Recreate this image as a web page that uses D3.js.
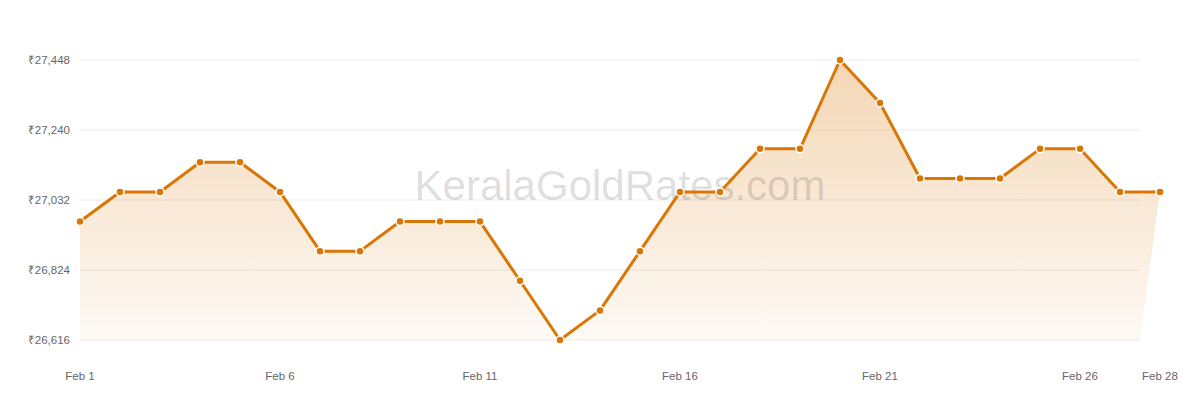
<!DOCTYPE html>
<html>
<head>
<meta charset="utf-8">
<script src="https://cdn.jsdelivr.net/npm/d3@7"></script>
<style>
  html, body { margin: 0; padding: 0; background: #fff; }
  svg text { font-family: "Liberation Sans", Arial, sans-serif; }
  .grid line { stroke: #f3f3f3; stroke-width: 1.5px; }
  .tick-label { fill: #666; font-size: 11.5px; }
</style>
</head>
<body>
<div id="chart"></div>
<script>
// Kerala gold rate, February (value per 8 g)
const days = d3.range(1, 29)
const rates = [
  26968, 27056, 27056, 27144, 27144, 27056, 26880, 26880, 26968, 26968,
  26968, 26792, 26616, 26704, 26880, 27056, 27056, 27184, 27184, 27448,
  27320, 27096, 27096, 27096, 27184, 27184, 27056, 27056
]
const yTicks = [26616, 26824, 27032, 27240, 27448]
const xTickDays = [1, 6, 11, 16, 21, 26, 28]

const width = 1200
const height = 400
const plotRight = 1140 // grid stops short of the last point
const color = '#d97706'

const svg = d3.select('#chart')
  .append('svg')
  .attr('width', width)
  .attr('height', height)

const x = d3.scaleLinear().domain([1, 28]).range([80, 1160])
const y = d3.scaleLinear().domain([26616, 27448]).range([340, 60])

const data = days.map((d, i) => ({ day: d, value: rates[i] }))

// gradient for the area
const grad = svg.append('defs')
  .append('linearGradient')
    .attr('id', 'areaFill')
    .attr('gradientUnits', 'userSpaceOnUse')
    .attr('x1', 0).attr('x2', 0)
    .attr('y1', y(27448)).attr('y2', y(26616))
grad.append('stop').attr('offset', 0).attr('stop-color', color).attr('stop-opacity', 0.3)
grad.append('stop').attr('offset', 1).attr('stop-color', color).attr('stop-opacity', 0.04)

// grid
svg.append('g').attr('class', 'grid')
  .selectAll('line')
  .data(yTicks)
  .join('line')
    .attr('x1', x(1)).attr('x2', plotRight)
    .attr('y1', d => y(d)).attr('y2', d => y(d))

// y labels
svg.append('g')
  .selectAll('text')
  .data(yTicks)
  .join('text')
    .attr('class', 'tick-label')
    .attr('x', 70)
    .attr('y', d => y(d))
    .attr('dy', '0.35em')
    .attr('text-anchor', 'end')
    .text(d => '₹' + d3.format(',')(d))

// x labels
svg.append('g')
  .selectAll('text')
  .data(xTickDays)
  .join('text')
    .attr('class', 'tick-label')
    .attr('x', d => x(d))
    .attr('y', 376)
    .attr('dy', '0.35em')
    .attr('text-anchor', 'middle')
    .text(d => 'Feb ' + d)

// area (base ends at the plot's right edge, like the original)
const areaPts = data.map(d => [x(d.day), y(d.value)])
areaPts.push([plotRight, y.range()[0]], [x(1), y.range()[0]])
svg.append('path')
  .attr('d', d3.line()(areaPts) + 'Z')
  .attr('fill', 'url(#areaFill)')

// watermark
svg.append('text')
  .attr('x', 620)
  .attr('y', 200)
  .attr('text-anchor', 'middle')
  .attr('font-size', 42)
  .attr('fill', 'rgba(0,0,0,0.14)')
  .text('KeralaGoldRates.com')

// line
svg.append('path')
  .datum(data)
  .attr('fill', 'none')
  .attr('stroke', color)
  .attr('stroke-width', 3)
  .attr('stroke-linejoin', 'round')
  .attr('d', d3.line().x(d => x(d.day)).y(d => y(d.value)))

// points
svg.append('g')
  .selectAll('circle')
  .data(data)
  .join('circle')
    .attr('cx', d => x(d.day))
    .attr('cy', d => y(d.value))
    .attr('r', 4)
    .attr('fill', color)
    .attr('stroke', '#fff')
    .attr('stroke-width', 1.5)
</script>
</body>
</html>
